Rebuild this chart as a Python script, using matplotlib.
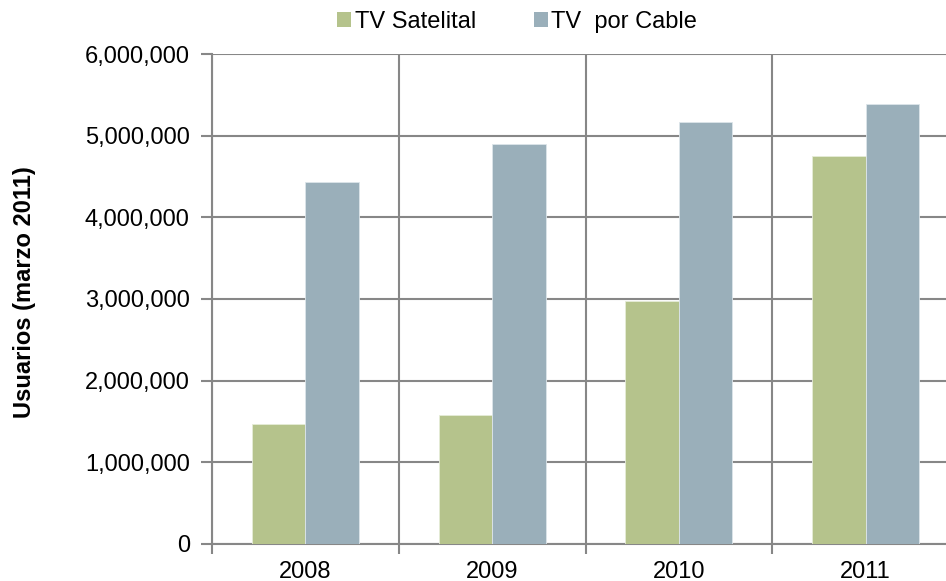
import numpy as np
import matplotlib.pyplot as plt
from matplotlib.patches import Patch
from matplotlib.ticker import FuncFormatter

plt.rcParams['font.family'] = ['Liberation Sans', 'DejaVu Sans']

# Usuarios por año
years = ["2008", "2009", "2010", "2011"]
satelital = [1475000, 1580000, 2980000, 4745000]
cable = [4430000, 4900000, 5170000, 5390000]

labels = ["TV Satelital", "TV  por Cable"]
colors = ["#B5C38C", "#9AAFBA"]
grid_color = "#878787"

fig = plt.figure(figsize=(9.46, 5.81), dpi=100)
ax = fig.add_axes([212 / 946, 37 / 581, 747 / 946, 490 / 581])

x = np.arange(len(years))
w = 0.286
ax.bar(x - w / 2, satelital, w, color=colors[0], edgecolor="#e6ecd8", linewidth=0.6, zorder=3)
ax.bar(x + w / 2, cable, w, color=colors[1], edgecolor="#dce5ea", linewidth=0.6, zorder=3)

ax.set_xlim(-0.5, len(years) - 0.5)
ax.set_ylim(0, 6000000)
ax.set_yticks(np.arange(0, 6000001, 1000000))
ax.yaxis.set_major_formatter(FuncFormatter(lambda v, p: f"{int(v):,}"))

ax.set_xticks(x)
ax.set_xticklabels(years)
ax.set_xticks(np.arange(-0.5, len(years)), minor=True)
ax.tick_params(axis="x", which="major", length=0, pad=12, labelsize=17)
ax.tick_params(axis="x", which="minor", length=7, width=1.5, color=grid_color)
ax.tick_params(axis="y", length=8, width=1.5, color=grid_color, pad=8, labelsize=17)

ax.grid(axis="y", which="major", color=grid_color, linewidth=1.5, zorder=0)
ax.grid(axis="x", which="minor", color=grid_color, linewidth=1.5, zorder=0)
ax.set_axisbelow(True)

for side in ["top", "right"]:
    ax.spines[side].set_visible(False)
for side in ["left", "bottom"]:
    ax.spines[side].set_color(grid_color)
    ax.spines[side].set_linewidth(1.5)

fig.text(25 / 946, 1 - 292 / 581, "Usuarios (marzo 2011)", rotation=90,
         ha="center", va="center", fontsize=17, fontweight="bold")

handles = [Patch(facecolor=c, edgecolor="none") for c in colors]
fig.legend(handles, labels, loc="center", bbox_to_anchor=(517 / 946, 1 - 22 / 581),
           ncol=2, frameon=False, fontsize=17, handlelength=0.6, handleheight=0.6,
           handletextpad=0.15, columnspacing=2.45, borderaxespad=0)

fig.savefig("out.png", dpi=100)
